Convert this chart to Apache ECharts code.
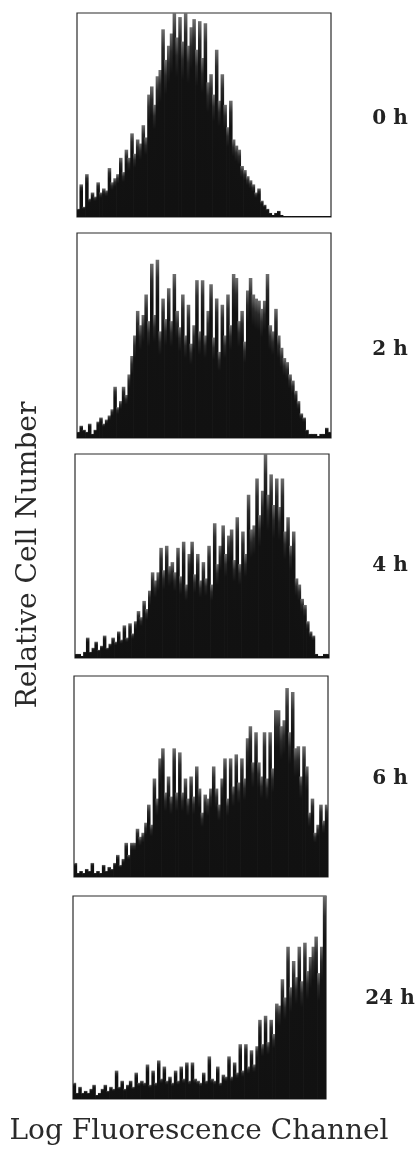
<!DOCTYPE html>
<html><head><meta charset="utf-8">
<script src="https://cdn.jsdelivr.net/npm/echarts@6/dist/echarts.min.js"></script>
<style>html,body{margin:0;padding:0;background:#fff}#c{width:419px;height:1153px}</style>
</head><body><div id="c"></div>
<script>
// Time points (panel labels)
const timeLabels = ['0 h', '2 h', '4 h', '6 h', '24 h'];
const xTitle = 'Log Fluorescence Channel';
const yTitle = 'Relative Cell Number';

// Relative cell number per channel bin (percent of panel height)
const h0 = [4,16,5,21,9,12,10,17,12,14,13,24,17,19,21,29,22,33,29,41,31,38,36,45,39,60,64,55,69,72,92,77,84,90,100,88,98,86,100,84,93,97,82,96,78,95,66,70,60,82,57,70,55,44,57,38,35,33,25,23,20,18,16,12,14,8,6,4,2,1,2,3,1,0.5,0.5,0.5,0.5,0.5,0.5,0.5,0.5,0.5,0.5,0.5,0.5,0.5,0.5,0.5,0.5,0.5];
const h2 = [3,6,4,3,7,2,4,8,10,7,9,11,14,25,15,18,25,21,31,40,50,62,55,60,70,57,85,60,87,52,68,58,73,57,80,62,54,70,50,65,46,55,77,52,77,50,62,75,49,68,42,65,50,70,55,80,78,57,62,47,72,78,70,68,67,63,67,80,55,52,63,50,44,39,37,31,28,23,18,12,10,4,2,2,2,1,2,2,5,3];
const h4 = [2,2,1,3,10,3,5,8,4,6,11,5,7,10,8,13,9,16,10,17,12,18,23,20,28,24,33,42,38,42,54,43,55,45,47,42,54,40,57,36,51,57,41,51,38,47,39,55,36,66,46,55,65,51,60,63,48,69,46,62,51,80,63,65,88,70,82,100,80,90,75,88,74,88,62,69,55,62,39,36,29,26,18,13,11,2,1,1,2,2];
const h6 = [7,2,3,2,4,3,7,2,3,2,6,3,5,4,7,11,6,9,17,11,17,17,24,20,22,27,36,26,49,39,59,64,42,50,40,64,42,62,42,49,39,50,40,55,44,32,41,39,44,55,44,36,49,59,39,59,45,61,47,59,49,69,75,57,72,57,50,72,49,72,54,83,83,75,78,94,72,92,64,65,50,65,55,32,39,22,26,36,28,36];
const h24 = [8,3,6,3,4,3,5,7,2,3,5,7,4,6,5,14,6,9,5,7,9,6,13,8,9,8,17,7,14,8,19,10,16,9,11,8,14,9,16,10,18,9,18,10,9,8,13,9,21,10,9,16,8,12,11,21,11,18,13,27,14,27,16,24,17,26,39,27,41,28,39,32,47,46,59,50,75,55,68,60,75,58,77,63,70,75,80,62,75,100];

const channels = h0.map((_, i) => i + 1);
const panels = [h0, h2, h4, h6, h24];

// Layout
const boxes = [
  {left: 77, top: 13, width: 254, height: 204},
  {left: 77, top: 233, width: 254, height: 205},
  {left: 75, top: 454, width: 254, height: 204},
  {left: 74, top: 676, width: 254, height: 201},
  {left: 73, top: 896, width: 253, height: 203}
];
const labelY = [119, 350, 566, 779, 999];

const barColor = {
  type: 'linear', x: 0, y: 0, x2: 0, y2: 1,
  colorStops: [
    {offset: 0, color: '#707070'},
    {offset: 0.1, color: '#2a2a2a'},
    {offset: 0.22, color: '#121212'},
    {offset: 1, color: '#111111'}
  ]
};

const chart = echarts.init(document.getElementById('c'), null, {renderer: 'canvas'});
const option = {
  animation: false,
  backgroundColor: '#ffffff',
  grid: boxes.map(b => ({
    left: b.left, top: b.top, width: b.width, height: b.height,
    show: true, borderColor: '#2b2b2b', borderWidth: 1.2, backgroundColor: '#ffffff'
  })),
  xAxis: panels.map((p, i) => ({
    type: 'category', gridIndex: i, data: channels, show: false, boundaryGap: true
  })),
  yAxis: panels.map((p, i) => ({
    type: 'value', gridIndex: i, min: 0, max: 100, show: false
  })),
  series: panels.map((p, i) => ({
    type: 'bar', xAxisIndex: i, yAxisIndex: i, data: p,
    barWidth: '125%',
    itemStyle: {color: barColor},
    silent: true
  })),
  graphic: [
    ...timeLabels.map((t, i) => ({
      type: 'text', x: 390, y: labelY[i],
      style: {text: t, font: 'bold 20px "DejaVu Serif"', fill: '#222', align: 'center', verticalAlign: 'middle'}
    })),
    {
      type: 'text', x: 199, y: 1132,
      style: {text: xTitle, font: '28px "DejaVu Serif"', fill: '#2a2a2a', align: 'center', verticalAlign: 'middle'}
    },
    {
      type: 'text', x: 29, y: 555, rotation: Math.PI / 2,
      style: {text: yTitle, font: '28px "DejaVu Serif"', fill: '#2a2a2a', align: 'center', verticalAlign: 'middle'}
    }
  ]
};
chart.setOption(option);
</script>
</body></html>
